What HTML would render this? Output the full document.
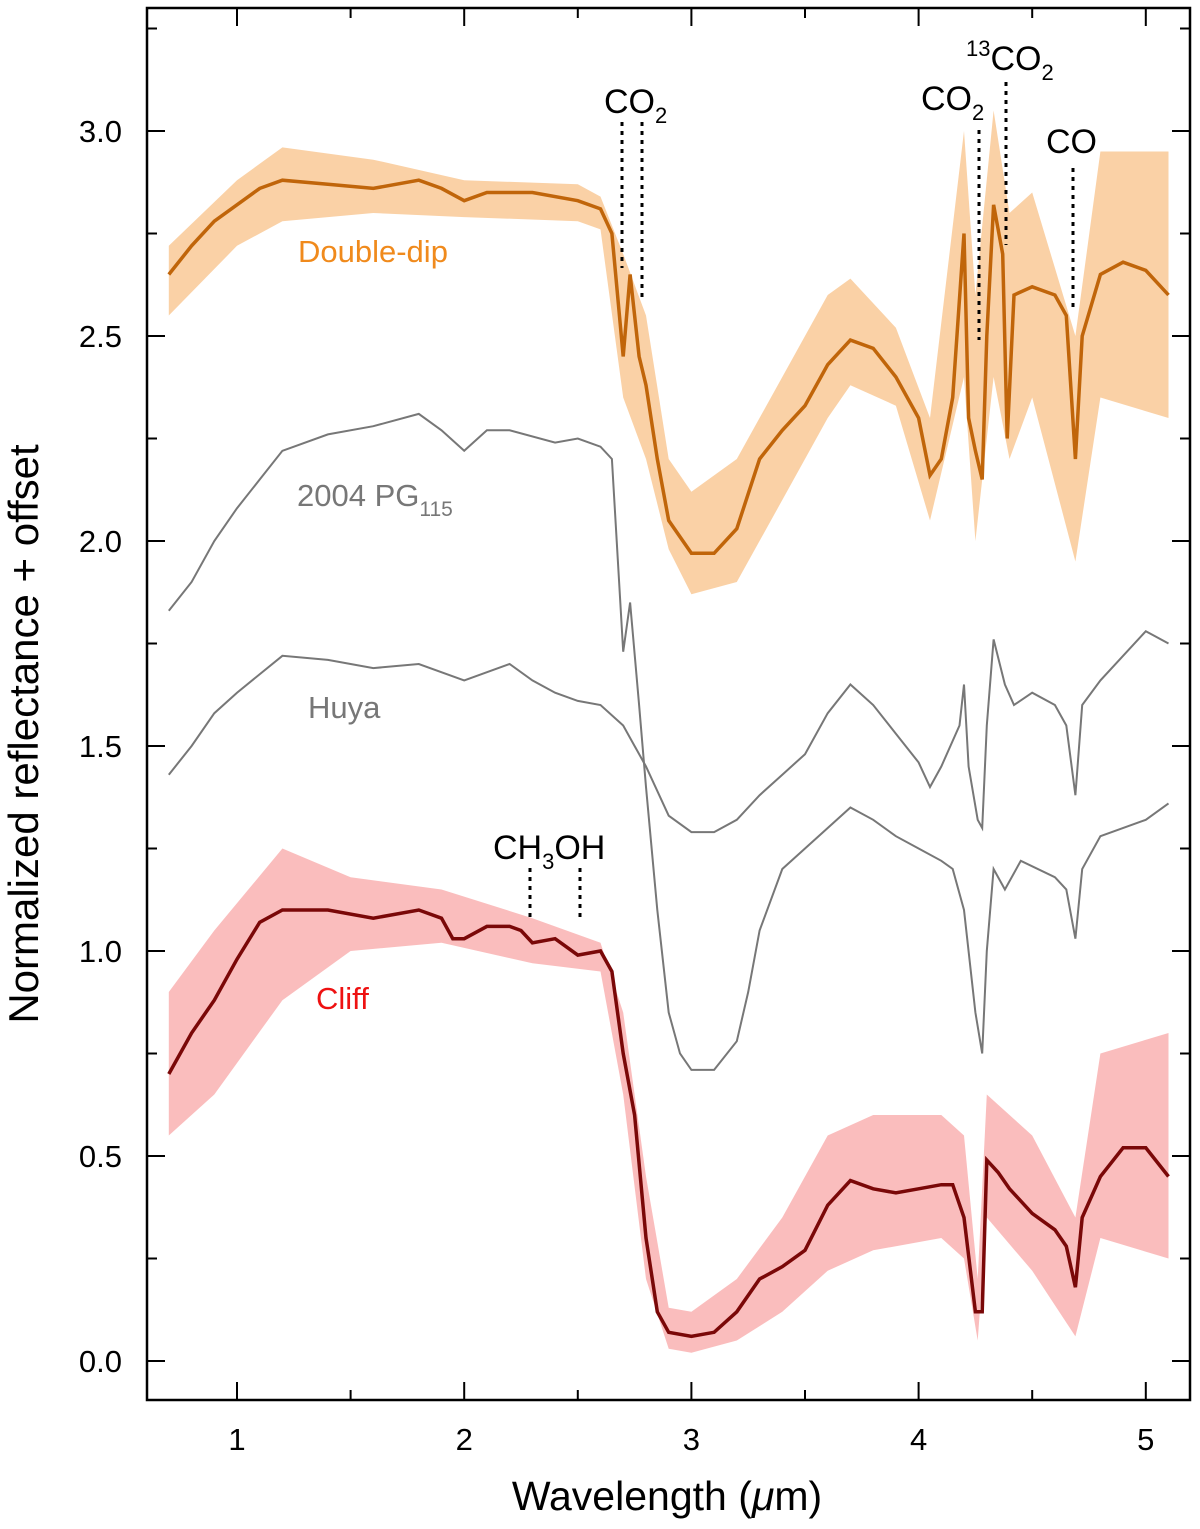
<!DOCTYPE html>
<html><head><meta charset="utf-8"><style>
body{margin:0;background:#fff;}
svg text{font-family:"Liberation Sans",Arial,sans-serif;}
</style></head><body>
<svg id="chart" width="1200" height="1524" viewBox="0 0 1200 1524" xmlns="http://www.w3.org/2000/svg"></svg>
<script>
const xTicks=[1,2,3,4,5];
const yTicks=[0.0,0.5,1.0,1.5,2.0,2.5,3.0];
const yTickLabels=["0.0","0.5","1.0","1.5","2.0","2.5","3.0"];

const ddWl=[0.7,0.8,0.9,1.0,1.1,1.2,1.4,1.6,1.8,1.9,2.0,2.1,2.3,2.5,2.6,2.65,2.7,2.73,2.77,2.8,2.85,2.9,3.0,3.1,3.2,3.3,3.4,3.5,3.6,3.7,3.8,3.9,4.0,4.05,4.1,4.15,4.2,4.22,4.25,4.28,4.3,4.33,4.37,4.39,4.42,4.5,4.6,4.65,4.69,4.72,4.8,4.9,5.0,5.1];
const ddMean=[2.65,2.72,2.78,2.82,2.86,2.88,2.87,2.86,2.88,2.86,2.83,2.85,2.85,2.83,2.81,2.75,2.45,2.65,2.45,2.38,2.2,2.05,1.97,1.97,2.03,2.2,2.27,2.33,2.43,2.49,2.47,2.40,2.30,2.16,2.2,2.35,2.75,2.3,2.22,2.15,2.5,2.82,2.7,2.25,2.6,2.62,2.6,2.55,2.2,2.5,2.65,2.68,2.66,2.6];
const ddBandWl=[0.7,1.0,1.2,1.6,2.0,2.5,2.6,2.7,2.8,2.9,3.0,3.2,3.4,3.6,3.7,3.9,4.05,4.2,4.25,4.33,4.4,4.5,4.69,4.8,5.1];
const ddUpper=[2.72,2.88,2.96,2.93,2.88,2.87,2.84,2.7,2.55,2.2,2.12,2.2,2.4,2.6,2.64,2.52,2.3,3.0,2.6,3.05,2.8,2.85,2.5,2.95,2.95];
const ddLower=[2.55,2.72,2.78,2.8,2.79,2.78,2.76,2.35,2.2,1.98,1.87,1.9,2.1,2.3,2.38,2.33,2.05,2.4,2.0,2.4,2.2,2.35,1.95,2.35,2.3];

const pgWl=[0.7,0.8,0.9,1.0,1.1,1.2,1.4,1.6,1.8,1.9,2.0,2.1,2.2,2.4,2.5,2.6,2.65,2.7,2.73,2.77,2.8,2.85,2.9,2.95,3.0,3.1,3.2,3.25,3.3,3.4,3.5,3.6,3.7,3.8,3.9,4.0,4.1,4.15,4.2,4.25,4.28,4.3,4.33,4.38,4.45,4.6,4.65,4.69,4.72,4.8,5.0,5.1];
const pgVal=[1.83,1.9,2.0,2.08,2.15,2.22,2.26,2.28,2.31,2.27,2.22,2.27,2.27,2.24,2.25,2.23,2.2,1.73,1.85,1.6,1.4,1.1,0.85,0.75,0.71,0.71,0.78,0.9,1.05,1.2,1.25,1.3,1.35,1.32,1.28,1.25,1.22,1.2,1.1,0.85,0.75,1.0,1.2,1.15,1.22,1.18,1.15,1.03,1.2,1.28,1.32,1.36];

const huWl=[0.7,0.8,0.9,1.0,1.2,1.4,1.6,1.8,2.0,2.2,2.3,2.4,2.5,2.6,2.7,2.8,2.9,3.0,3.1,3.2,3.3,3.4,3.5,3.6,3.7,3.8,3.9,4.0,4.05,4.1,4.18,4.2,4.22,4.26,4.28,4.3,4.33,4.38,4.42,4.5,4.6,4.65,4.69,4.72,4.8,4.9,5.0,5.1];
const huVal=[1.43,1.5,1.58,1.63,1.72,1.71,1.69,1.7,1.66,1.7,1.66,1.63,1.61,1.6,1.55,1.45,1.33,1.29,1.29,1.32,1.38,1.43,1.48,1.58,1.65,1.6,1.53,1.46,1.4,1.45,1.55,1.65,1.45,1.32,1.3,1.55,1.76,1.65,1.6,1.63,1.6,1.55,1.38,1.6,1.66,1.72,1.78,1.75];

const clWl=[0.7,0.8,0.9,1.0,1.1,1.2,1.4,1.6,1.8,1.9,1.95,2.0,2.1,2.2,2.25,2.3,2.4,2.5,2.6,2.65,2.7,2.75,2.8,2.85,2.9,3.0,3.1,3.2,3.3,3.4,3.5,3.6,3.7,3.8,3.9,4.0,4.1,4.15,4.2,4.25,4.28,4.3,4.35,4.4,4.5,4.6,4.65,4.69,4.72,4.8,4.9,5.0,5.1];
const clMean=[0.70,0.8,0.88,0.98,1.07,1.1,1.1,1.08,1.1,1.08,1.03,1.03,1.06,1.06,1.05,1.02,1.03,0.99,1.0,0.95,0.75,0.6,0.3,0.12,0.07,0.06,0.07,0.12,0.2,0.23,0.27,0.38,0.44,0.42,0.41,0.42,0.43,0.43,0.35,0.12,0.12,0.49,0.46,0.42,0.36,0.32,0.28,0.18,0.35,0.45,0.52,0.52,0.45];
const clBandWl=[0.7,0.9,1.2,1.5,1.9,2.3,2.6,2.7,2.8,2.9,3.0,3.2,3.4,3.6,3.8,4.1,4.2,4.26,4.3,4.5,4.69,4.8,5.1];
const clUpper=[0.9,1.05,1.25,1.18,1.15,1.08,1.02,0.85,0.45,0.13,0.12,0.2,0.35,0.55,0.6,0.6,0.55,0.2,0.65,0.55,0.35,0.75,0.8];
const clLower=[0.55,0.65,0.88,1.0,1.02,0.97,0.95,0.65,0.2,0.03,0.02,0.05,0.12,0.22,0.27,0.3,0.25,0.05,0.35,0.22,0.06,0.3,0.25];

const L=147,R=1190,T=8,B=1400;
const xs=v=>237+(v-1)*227.2;
const ys=v=>1361-v*410;
const svg=document.getElementById('chart');
const NS='http://www.w3.org/2000/svg';
function mk(tag,attrs,parent){const e=document.createElementNS(NS,tag);for(const k in attrs)e.setAttribute(k,attrs[k]);(parent||svg).appendChild(e);return e;}
function linePath(w,v){return w.map((x,i)=>(i?'L':'M')+xs(x).toFixed(1)+','+ys(v[i]).toFixed(1)).join('');}
function bandPath(w,u,l){let d=w.map((x,i)=>(i?'L':'M')+xs(x).toFixed(1)+','+ys(u[i]).toFixed(1)).join('');for(let i=w.length-1;i>=0;i--)d+='L'+xs(w[i]).toFixed(1)+','+ys(l[i]).toFixed(1);return d+'Z';}

let e;
e=mk('path',{d:bandPath(ddBandWl,ddUpper,ddLower),fill:'#f59a3a','fill-opacity':'0.45',stroke:'none'});


e=mk('path',{d:bandPath(clBandWl,clUpper,clLower),fill:'#f25b5b','fill-opacity':'0.4',stroke:'none'});


e=mk('path',{d:linePath(pgWl,pgVal),fill:'none',stroke:'#777','stroke-width':2});


e=mk('path',{d:linePath(huWl,huVal),fill:'none',stroke:'#777','stroke-width':2});


e=mk('path',{d:linePath(ddWl,ddMean),fill:'none',stroke:'#c0650a','stroke-width':3.5});


e=mk('path',{d:linePath(clWl,clMean),fill:'none',stroke:'#7a0808','stroke-width':3.5});



e=mk('rect',{x:L,y:T,width:R-L,height:B-T,fill:'none',stroke:'#000','stroke-width':2.5});


xTicks.forEach(v=>{const x=xs(v);
 mk('line',{x1:x,x2:x,y1:B,y2:B-18,stroke:'#000','stroke-width':2});
 mk('line',{x1:x,x2:x,y1:T,y2:T+18,stroke:'#000','stroke-width':2});
 const m=xs(v+0.5); if(m<R){mk('line',{x1:m,x2:m,y1:B,y2:B-10,stroke:'#000','stroke-width':2});mk('line',{x1:m,x2:m,y1:T,y2:T+10,stroke:'#000','stroke-width':2});}
 e=mk('text',{x:x,y:1450,'font-size':31,'text-anchor':'middle'});e.textContent=String(v);
 
 
});
yTicks.forEach((v,i)=>{const y=ys(v);
 mk('line',{x1:L,x2:L+18,y1:y,y2:y,stroke:'#000','stroke-width':2});
 mk('line',{x1:R,x2:R-18,y1:y,y2:y,stroke:'#000','stroke-width':2});
 const m=ys(v+0.25); if(m>T){mk('line',{x1:L,x2:L+10,y1:m,y2:m,stroke:'#000','stroke-width':2});mk('line',{x1:R,x2:R-10,y1:m,y2:m,stroke:'#000','stroke-width':2});}
 e=mk('text',{x:122,y:y+11,'font-size':31,'text-anchor':'end'});e.textContent=yTickLabels[i];
 
 
});
</script>
<svg style="position:absolute;left:0;top:0" width="1200" height="1524">
 <g font-family="Liberation Sans, Arial, sans-serif">
  <text x="667" y="1510" font-size="41" text-anchor="middle">Wavelength (<tspan font-style="italic">μ</tspan>m)</text>
  <text transform="translate(38,734) rotate(-90)" font-size="42" text-anchor="middle">Normalized reflectance + offset</text>
  <text x="298" y="262" font-size="31" fill="#f08a1c">Double-dip</text>
  <text x="297" y="506" font-size="31" fill="#777">2004 PG<tspan font-size="21" dy="10">115</tspan></text>
  <text x="308" y="718" font-size="31" fill="#777">Huya</text>
  <text x="316" y="1009" font-size="31" fill="#ee1111">Cliff</text>
  <g stroke="#000" stroke-width="3" stroke-dasharray="4,5">
   <line x1="622" y1="122" x2="622" y2="268"/><line x1="642" y1="122" x2="642" y2="300"/>
   <line x1="979" y1="130" x2="979" y2="340"/><line x1="1006" y1="82" x2="1006" y2="245"/>
   <line x1="1073" y1="168" x2="1073" y2="312"/>
   <line x1="530" y1="868" x2="530" y2="920"/><line x1="580" y1="868" x2="580" y2="918"/>
  </g>
  <text x="604" y="113" font-size="34">CO<tspan font-size="22" dy="10">2</tspan></text>
  <text x="921" y="110" font-size="34">CO<tspan font-size="22" dy="10">2</tspan></text>
  <text x="966" y="70" font-size="34"><tspan font-size="22" dy="-14">13</tspan><tspan dy="14">CO</tspan><tspan font-size="22" dy="10">2</tspan></text>
  <text x="1046" y="153" font-size="34">CO</text>
  <text x="493" y="859" font-size="34">CH<tspan font-size="22" dy="10">3</tspan><tspan dy="-10">OH</tspan></text>
 </g>
</svg>
</body></html>
